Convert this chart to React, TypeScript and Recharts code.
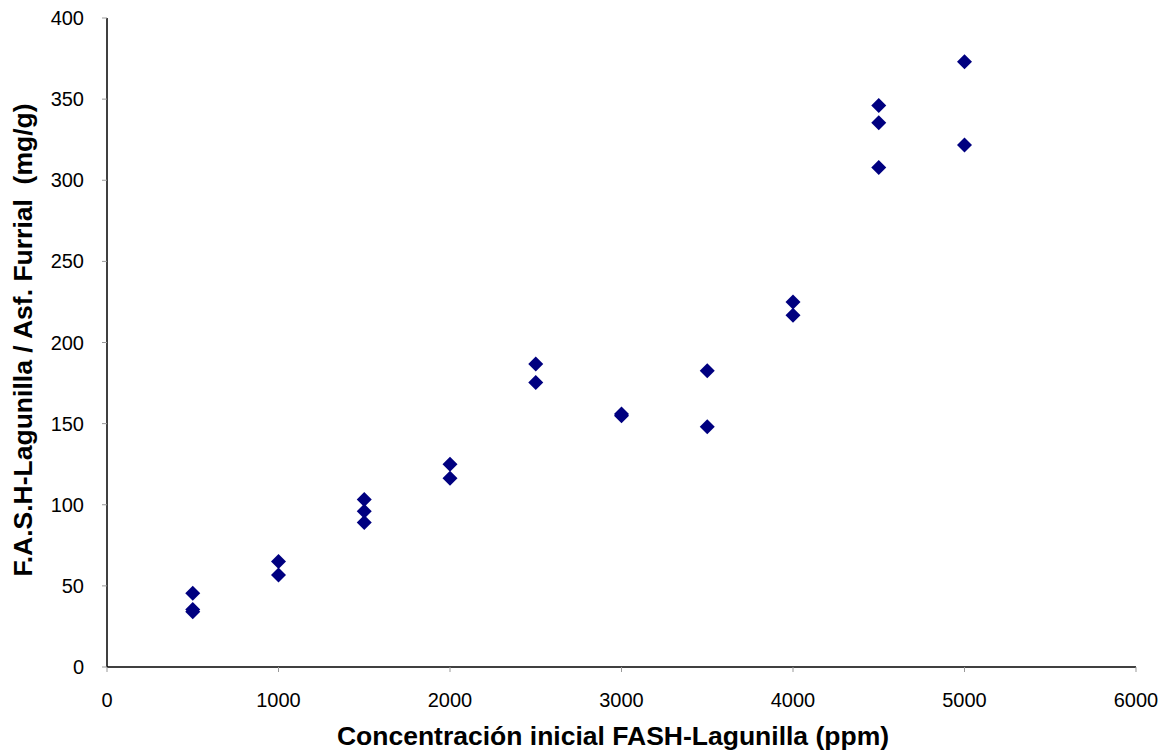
import { ScatterChart, Scatter, XAxis, YAxis } from 'recharts'

const CONCENTRATIONS = [500, 500, 500, 1000, 1000, 1500, 1500, 1500, 2000, 2000, 2500, 2500, 3000, 3000, 3500, 3500, 4000, 4000, 4500, 4500, 4500, 5000, 5000]
const ADSORBED = [45.5, 35.5, 34, 65, 56.7, 103.3, 96, 89, 125, 116.3, 186.7, 175.3, 156, 154.8, 182.6, 148, 225, 216.8, 346, 335.5, 307.8, 373, 321.7]

const X_TICKS = [0, 1000, 2000, 3000, 4000, 5000, 6000]
const Y_TICKS = [0, 50, 100, 150, 200, 250, 300, 350, 400]

const X_TITLE = 'Concentración inicial FASH-Lagunilla (ppm)'
const Y_TITLE = 'F.A.S.H-Lagunilla / Asf. Furrial  (mg/g)'

const points = CONCENTRATIONS.map((x, i) => ({ x, y: ADSORBED[i] }))

const FONT = '"Liberation Sans", Arial, sans-serif'

function Diamond(props: any) {
  const { cx, cy } = props
  const r = 7.5
  return <polygon points={`${cx},${cy - r} ${cx + r},${cy} ${cx},${cy + r} ${cx - r},${cy}`} fill="#000080" />
}

const XTitle = () => (
  <text x={613} y={745} textAnchor="middle" fill="#000" fontSize={26.5} fontWeight="bold" fontFamily={FONT}>
    {X_TITLE}
  </text>
)

const YTitle = () => (
  <text
    x={32}
    y={340}
    transform="rotate(-90, 32, 340)"
    textAnchor="middle"
    fill="#000"
    fontSize={26.5}
    fontWeight="bold"
    fontFamily={FONT}
    style={{ whiteSpace: 'pre' }}
  >
    {Y_TITLE}
  </text>
)

export default function App() {
  return (
    <div style={{ position: 'absolute', left: 0, top: 0, background: '#fff', fontFamily: FONT }}>
      <ScatterChart width={1170} height={750} margin={{ top: 18, right: 34, bottom: 23, left: 30 }}>
        <XAxis
          type="number"
          dataKey="x"
          domain={[0, 6000]}
          ticks={X_TICKS}
          height={60}
          axisLine={{ stroke: '#000', strokeWidth: 1.5 }}
          tickLine={{ stroke: '#999' }}
          tickSize={5}
          tickMargin={21}
          tick={{ fill: '#000', fontSize: 20, fontFamily: FONT }}
          label={{ content: XTitle }}
        />
        <YAxis
          type="number"
          dataKey="y"
          domain={[0, 400]}
          ticks={Y_TICKS}
          width={77}
          axisLine={{ stroke: '#000', strokeWidth: 1.5 }}
          tickLine={{ stroke: '#999' }}
          tickSize={5}
          tickMargin={18}
          tick={{ fill: '#000', fontSize: 20, fontFamily: FONT }}
          label={{ content: YTitle }}
        />
        <Scatter data={points} shape={Diamond} isAnimationActive={false} />
      </ScatterChart>
    </div>
  )
}
